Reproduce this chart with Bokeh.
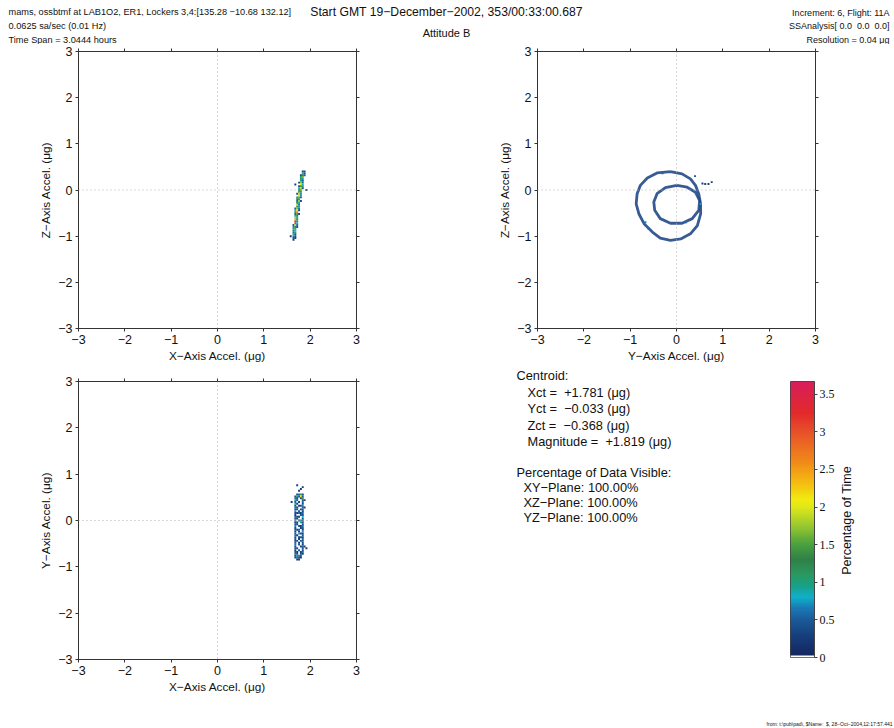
import math
import numpy as np
from bokeh.plotting import figure
from bokeh.models import Range1d, LinearAxis, FixedTicker, Span, LinearColorMapper, ColumnDataSource
from bokeh.layouts import column, row
from bokeh.embed import file_html
from bokeh.resources import INLINE
from bokeh.core.properties import value

SANS = "Liberation Sans"
SERIF = "Liberation Serif"
NB = "\u00a0"

# ---------------- texts ----------------
header_left = ["mams, ossbtmf at LAB1O2, ER1, Lockers 3,4:[135.28 \u221210.68 132.12]",
               "0.0625 sa/sec (0.01 Hz)",
               "Time Span = 3.0444 hours"]
header_right = ["Increment: 6, Flight: 11A",
                "SSAnalysis[ 0.0 " + NB + "0.0 " + NB + "0.0]",
                "Resolution = 0.04 \u03bcg"]
title_main = "Start GMT 19\u2212December\u22122002, 353/00:33:00.687"
title_sub = "Attitude B"
footer_text = "from: t:\\pub\\pad\\, $Name: " + NB + "$, 28\u2212Oct\u22122004,12:17:57.441"

centroid_title = "Centroid:"
centroid_lines = ["Xct = " + NB + "+1.781 (\u03bcg)", "Yct = " + NB + "\u22120.033 (\u03bcg)",
                  "Zct = " + NB + "\u22120.368 (\u03bcg)", "Magnitude = " + NB + "+1.819 (\u03bcg)"]
visible_title = "Percentage of Data Visible:"
visible_lines = ["XY\u2212Plane: 100.00%", "XZ\u2212Plane: 100.00%", "YZ\u2212Plane: 100.00%"]

axis_ticks = [-3, -2, -1, 0, 1, 2, 3]
tick_labels = ["\u22123", "\u22122", "\u22121", "0", "1", "2", "3"]
cbar_ticks = [0, 0.5, 1, 1.5, 2, 2.5, 3, 3.5]
cbar_labels = ["0", "0.5", "1", "1.5", "2", "2.5", "3", "3.5"]
cbar_max = 3.67
cell = 0.042

# ---------------- XZ histogram cells (rows of z) ----------------
xz_rows_z = [0.40, 0.36, 0.32, 0.28, 0.24, 0.20, 0.16, 0.12, 0.08, 0.04, 0.00, -0.04, -0.08,
             -0.12, -0.16, -0.20, -0.24, -0.28, -0.32, -0.36, -0.40, -0.44, -0.48, -0.52,
             -0.56, -0.60, -0.64, -0.68, -0.72, -0.76, -0.80, -0.84, -0.88, -0.92, -0.96,
             -1.00, -1.04, -1.08]
xz_rows_x = [[1.84, 1.88], [1.84, 1.88], [1.80, 1.84, 1.88], [1.80, 1.84], [1.80, 1.84],
             [1.80, 1.84], [1.76, 1.80, 1.84], [1.68, 1.80, 1.84], [1.76, 1.80, 1.84],
             [1.76, 1.80, 1.84], [1.76, 1.80, 1.92], [1.76, 1.80], [1.72, 1.76, 1.80],
             [1.76, 1.80], [1.72, 1.76, 1.80], [1.72, 1.76], [1.72, 1.76, 1.80], [1.72, 1.76],
             [1.72, 1.76], [1.72, 1.76], [1.68, 1.72, 1.76], [1.68, 1.72, 1.76], [1.68, 1.72],
             [1.68, 1.72, 1.76], [1.68, 1.72], [1.68, 1.72], [1.68, 1.72], [1.68, 1.72],
             [1.68, 1.72], [1.64, 1.68, 1.72], [1.64, 1.68, 1.72], [1.64, 1.68], [1.64, 1.68],
             [1.64, 1.68], [1.64, 1.68], [1.58, 1.64, 1.68], [1.64, 1.68], [1.64]]
xz_rows_v = [[0.3, 0.4], [0.8, 0.4], [0.4, 1.3, 0.5], [1.0, 1.6], [1.4, 0.9],
             [0.9, 0.5], [0.4, 1.7, 0.6], [0.3, 2.1, 0.8], [0.5, 1.4, 1.1],
             [0.8, 1.9, 0.4], [1.2, 1.6, 0.3], [1.5, 1.0], [0.5, 2.3, 0.7],
             [2.0, 0.9], [0.7, 1.6, 0.5], [1.3, 1.1], [0.6, 1.8, 0.4], [1.4, 0.8],
             [1.9, 0.6], [1.2, 1.0], [0.5, 1.7, 0.6], [0.8, 2.2, 0.4], [1.1, 2.6],
             [0.6, 1.5, 0.4], [0.9, 1.3], [1.8, 1.0], [2.4, 0.7], [3.4, 1.2],
             [3.1, 0.8], [0.5, 1.9, 0.6], [0.7, 1.2, 0.4], [0.9, 1.5], [1.3, 0.8],
             [0.6, 1.1], [0.9, 0.5], [0.3, 0.7, 0.4], [0.5, 0.3], [0.3]]

# ---------------- XY histogram cells (rows of y) ----------------
xy_rows_y = [0.76, 0.72, 0.68, 0.64, 0.56, 0.52, 0.48, 0.44, 0.40, 0.36, 0.32, 0.28, 0.24,
             0.20, 0.16, 0.12, 0.08, 0.04, 0.00, -0.04, -0.08, -0.12, -0.16, -0.20, -0.24,
             -0.28, -0.32, -0.36, -0.40, -0.44, -0.48, -0.52, -0.56, -0.60, -0.64, -0.68,
             -0.72, -0.76, -0.80, -0.84]
xy_rows_x = [[1.72], [1.84], [1.80], [1.76], [1.72, 1.76, 1.80, 1.84],
             [1.68, 1.72, 1.76, 1.80, 1.84], [1.68, 1.72, 1.80, 1.84], [1.68, 1.72, 1.84, 1.88],
             [1.60, 1.68, 1.76, 1.84], [1.68, 1.72, 1.84], [1.68, 1.76, 1.80, 1.84],
             [1.68, 1.72, 1.84, 1.88], [1.68, 1.72, 1.80, 1.84], [1.68, 1.76, 1.84],
             [1.68, 1.72, 1.76, 1.80, 1.84], [1.68, 1.80, 1.84], [1.68, 1.72, 1.76, 1.84],
             [1.68, 1.72, 1.84], [1.68, 1.76, 1.80, 1.84], [1.68, 1.72, 1.80, 1.84],
             [1.68, 1.72, 1.84], [1.68, 1.76, 1.80, 1.84], [1.68, 1.80, 1.84],
             [1.68, 1.72, 1.76, 1.84], [1.68, 1.76, 1.84], [1.68, 1.76, 1.80, 1.84],
             [1.68, 1.72, 1.84], [1.68, 1.76, 1.80, 1.84], [1.68, 1.76, 1.84],
             [1.68, 1.72, 1.80, 1.84], [1.68, 1.76, 1.84], [1.68, 1.76, 1.84],
             [1.68, 1.80, 1.84, 1.88], [1.68, 1.72, 1.84, 1.92], [1.68, 1.76, 1.84],
             [1.68, 1.72, 1.80, 1.84], [1.68, 1.72, 1.80, 1.84], [1.68, 1.72, 1.76, 1.80],
             [1.68, 1.72, 1.76, 1.80], [1.72, 1.76]]
xy_rows_v = [[0.3], [0.3], [0.3], [0.3], [0.4, 0.6, 1.5, 0.4],
             [0.4, 1.0, 0.5, 2.2, 0.5], [0.6, 0.3, 0.4, 1.4], [1.0, 0.4, 0.5, 0.3],
             [0.3, 0.5, 0.3, 0.6], [0.8, 0.3, 0.4], [0.4, 0.3, 0.4, 0.7],
             [0.6, 0.3, 0.5, 0.3], [0.4, 0.4, 0.3, 0.5], [0.7, 0.4, 0.3],
             [0.4, 0.3, 0.6, 0.3, 0.6], [0.3, 0.5, 0.4], [0.5, 0.3, 0.3, 0.8],
             [0.4, 0.3, 0.5], [0.6, 0.4, 0.9, 0.3], [0.3, 0.3, 1.1, 0.5],
             [0.5, 0.3, 0.4], [0.7, 0.5, 0.3, 0.6], [0.4, 0.3, 0.5],
             [0.5, 0.4, 0.6, 0.3], [0.3, 0.3, 0.7], [0.5, 0.8, 0.4, 0.4],
             [0.6, 0.3, 0.5], [0.4, 0.3, 0.5, 0.3], [0.5, 0.3, 0.6],
             [0.3, 0.4, 0.5, 0.5], [0.5, 0.3, 0.4], [0.6, 0.4, 0.3],
             [0.4, 0.3, 0.5, 0.3], [0.5, 0.4, 0.5, 0.3], [0.3, 0.5, 0.4],
             [0.5, 0.3, 0.3, 0.6], [0.6, 0.4, 0.5, 0.3], [0.4, 1.0, 1.4, 0.5],
             [0.4, 0.6, 0.5, 0.3], [0.3, 0.3]]

# ---------------- YZ rings (traced outlines) and loose cells ----------------
yz_outer_y = [-0.13, 0.12, 0.30, 0.41, 0.48, 0.52, 0.52, 0.45, 0.30, 0.09, -0.13, -0.35,
              -0.52, -0.70, -0.81, -0.87, -0.85, -0.78, -0.63, -0.42, -0.13]
yz_outer_z = [0.40, 0.35, 0.24, 0.10, -0.08, -0.30, -0.52, -0.77, -0.95, -1.06, -1.09, -1.04,
              -0.91, -0.73, -0.52, -0.30, -0.08, 0.10, 0.26, 0.37, 0.40]
yz_inner_y = [0.01, 0.23, 0.41, 0.50, 0.48, 0.34, 0.12, -0.13, -0.35, -0.47, -0.49, -0.42,
              -0.24, 0.01]
yz_inner_z = [0.10, 0.06, -0.05, -0.23, -0.44, -0.62, -0.72, -0.72, -0.62, -0.44, -0.26, -0.08,
              0.05, 0.10]
yz_pts_y = [0.56, 0.62, 0.69, 0.76, 0.52, -0.67, 0.40, -0.30, 0.20, -0.60]
yz_pts_z = [0.14, 0.13, 0.13, 0.17, -0.30, -0.70, 0.30, 0.36, -0.70, -0.84]
yz_pts_v = [0.3, 0.3, 0.3, 0.3, 0.8, 0.7, 0.5, 0.6, 0.6, 0.6]

# ---------------- colour scale ----------------
stops = [(0.0, "#ffffff"), (0.025, "#ffffff"), (0.03, "#142660"), (0.30, "#17407e"),
         (0.50, "#1a5a98"), (0.65, "#1a78b4"), (0.80, "#10b0c8"), (0.95, "#18a088"),
         (1.10, "#2a9a60"), (1.30, "#2e8048"), (1.50, "#4aa040"), (1.75, "#98c830"),
         (2.00, "#e0e818"), (2.10, "#f0ec10"), (2.30, "#f5c010"), (2.60, "#f08a18"),
         (3.00, "#e8502a"), (3.25, "#e22a2a"), (3.67, "#d81e5a")]


def h2rgb(h):
    return tuple(int(h[i:i + 2], 16) for i in (1, 3, 5))


palette = []
N = 256
for i in range(N):
    v = (i + 0.5) / N * cbar_max
    for k in range(len(stops) - 1):
        v0, c0 = stops[k]
        v1, c1 = stops[k + 1]
        if v0 <= v <= v1 or k == len(stops) - 2:
            t = 0 if v1 == v0 else min(max((v - v0) / (v1 - v0), 0), 1)
            a, b = h2rgb(c0), h2rgb(c1)
            palette.append("#%02x%02x%02x" % tuple(int(round(a[j] + (b[j] - a[j]) * t)) for j in range(3)))
            break
mapper = LinearColorMapper(palette=palette, low=0, high=cbar_max)

AX_COLOR = "#333333"


def style_axis(ax, show_labels=True):
    ax.ticker = FixedTicker(ticks=axis_ticks)
    ax.minor_tick_line_color = None
    ax.major_tick_in = 0
    ax.major_tick_out = 3
    ax.axis_line_color = AX_COLOR
    ax.major_tick_line_color = AX_COLOR
    ax.major_label_text_font = SANS
    ax.major_label_text_font_size = "12.5px"
    ax.major_label_text_color = "#111111"
    ax.major_label_standoff = 3
    ax.axis_label_text_font = SANS
    ax.axis_label_text_font_size = "11.8px"
    ax.axis_label_text_font_style = "normal"
    ax.axis_label_text_color = "#111111"
    ax.axis_label_standoff = 2
    if show_labels:
        ax.major_label_overrides = dict(zip(axis_ticks, tick_labels))
    else:
        ax.major_label_overrides = dict(zip(axis_ticks, [""] * len(axis_ticks)))
        ax.major_label_text_font_size = "1px"
        ax.major_label_standoff = 0


def make_plot(width, height, bl, br, bt, bb, xlabel, ylabel):
    p = figure(width=width, height=height, x_range=Range1d(-3, 3), y_range=Range1d(-3, 3),
               output_backend="svg", toolbar_location=None, frame_align=False,
               min_border_left=bl, min_border_right=br, min_border_top=bt, min_border_bottom=bb)
    p.grid.visible = False
    p.outline_line_color = AX_COLOR
    style_axis(p.xaxis[0])
    style_axis(p.yaxis[0])
    p.xaxis[0].axis_label = xlabel
    p.yaxis[0].axis_label = ylabel
    top = LinearAxis()
    style_axis(top, False)
    p.add_layout(top, "above")
    right = LinearAxis()
    style_axis(right, False)
    p.add_layout(right, "right")
    for dim in ("height", "width"):
        p.add_layout(Span(location=0, dimension=dim, line_color="#b0b0b0",
                          line_dash="1 3", line_width=1))
    return p


def flatten(rows_pos, rows_a, rows_v):
    a, b, v = [], [], []
    for pos, aa, vv in zip(rows_pos, rows_a, rows_v):
        assert len(aa) == len(vv)
        for x_, v_ in zip(aa, vv):
            a.append(x_)
            b.append(pos)
            v.append(v_)
    return a, b, v


TOP_H = 322
BOT_H = 350

# ---- top-left: X vs Z ----
pA = make_plot(470, TOP_H, 78, 114, 7, TOP_H - 7 - 277, "X\u2212Axis Accel. (\u03bcg)", "Z\u2212Axis Accel. (\u03bcg)")
ax_, az_, av_ = flatten(xz_rows_z, xz_rows_x, xz_rows_v)
pA.rect(x="x", y="y", width=cell, height=cell, source=ColumnDataSource(dict(x=ax_, y=az_, v=av_)),
        fill_color={"field": "v", "transform": mapper}, line_color=None)

# ---- top-right: Y vs Z ----
pB = make_plot(424, TOP_H, 67, 79, 7, TOP_H - 7 - 277, "Y\u2212Axis Accel. (\u03bcg)", "Z\u2212Axis Accel. (\u03bcg)")
pB.line(yz_outer_y, yz_outer_z, line_color="#24498a", line_width=2.8, line_join="round", line_alpha=0.9)
pB.line(yz_inner_y, yz_inner_z, line_color="#24498a", line_width=2.8, line_join="round", line_alpha=0.9)
pB.rect(x="x", y="y", width=cell, height=cell,
        source=ColumnDataSource(dict(x=yz_pts_y, y=yz_pts_z, v=yz_pts_v)),
        fill_color={"field": "v", "transform": mapper}, line_color=None)

# ---- bottom-left: X vs Y ----
pC = make_plot(470, BOT_H, 78, 114, 15, BOT_H - 15 - 278, "X\u2212Axis Accel. (\u03bcg)", "Y\u2212Axis Accel. (\u03bcg)")
cx_, cy_, cv_ = flatten(xy_rows_y, xy_rows_x, xy_rows_v)
pC.rect(x="x", y="y", width=cell, height=cell, source=ColumnDataSource(dict(x=cx_, y=cy_, v=cv_)),
        fill_color={"field": "v", "transform": mapper}, line_color=None)


def text_panel(width, height, x0, x1, y0, y1, flip=True):
    p = figure(width=width, height=height, x_range=Range1d(x0, x1),
               y_range=Range1d(y1, y0) if flip else Range1d(y0, y1),
               output_backend="svg", toolbar_location=None, frame_align=False,
               x_axis_location=None, y_axis_location=None, min_border=0)
    p.min_border_left = p.min_border_right = p.min_border_top = p.min_border_bottom = 0
    p.grid.visible = False
    p.outline_line_color = None
    return p


def put(p, x, y, txt, size, align="left", font=SANS, angle=0):
    p.text(x=[x], y=[y], text=[txt], text_font=value(font), text_font_size=size,
           text_align=align, text_baseline="middle", text_color="#111111", angle=angle)


# ---- header (page coordinates) ----
pH = text_panel(894, 44, 0, 894, 0, 44)
for i, t in enumerate(header_left):
    put(pH, 8, 11 + 14 * i, t, "9.2px")
for i, t in enumerate(header_right):
    put(pH, 889, 12.5 + 13.3 * i, t, "9px", align="right")
put(pH, 446, 11, title_main, "12.2px", align="center")
put(pH, 446, 32, title_sub, "11px", align="center")

# ---- centroid text ----
Y0 = 44 + TOP_H
pD = text_panel(310, BOT_H, 470, 780, Y0, Y0 + BOT_H)
put(pD, 516, 375, centroid_title, "12.8px")
for i, t in enumerate(centroid_lines):
    put(pD, 527, 391.5 + 16.5 * i, t, "12.8px")
put(pD, 516, 472, visible_title, "12.8px")
for i, t in enumerate(visible_lines):
    put(pD, 523, 487 + 15 * i, t, "12.8px")

# ---- colour bar ----
pE = figure(width=60, height=BOT_H, x_range=Range1d(0, 1), y_range=Range1d(0, cbar_max),
            output_backend="svg", toolbar_location=None, x_axis_location=None, frame_align=False,
            y_axis_location="right", min_border_left=10, min_border_right=26,
            min_border_top=15, min_border_bottom=BOT_H - 15 - 276)
pE.grid.visible = False
pE.outline_line_color = "#444444"
grad = np.linspace(0, cbar_max, 600).reshape(-1, 1)
pE.image(image=[grad], x=0, y=0, dw=1, dh=cbar_max, color_mapper=mapper)
ya = pE.yaxis[0]
ya.ticker = FixedTicker(ticks=cbar_ticks)
ya.major_label_overrides = dict(zip(cbar_ticks, cbar_labels))
ya.minor_tick_line_color = None
ya.major_tick_in = 0
ya.major_tick_out = 3
ya.axis_line_color = "#444444"
ya.major_tick_line_color = "#444444"
ya.major_label_text_font = SERIF
ya.major_label_text_font_size = "12px"
ya.major_label_text_color = "#111111"
ya.major_label_standoff = 2

pG = text_panel(54, BOT_H, 840, 894, 0, BOT_H, flip=False)
put(pG, 846, Y0 + BOT_H - 520, "Percentage of Time", "12.5px", align="center", angle=math.pi / 2)

# ---- footer ----
pF = text_panel(894, 12, 0, 894, 716, 728)
put(pF, 892, 723, footer_text, "5px", align="right")

layout = column(pH, row(pA, pB), row(pC, pD, pE, pG), pF)
open("out.html", "w").write(file_html(layout, INLINE))
